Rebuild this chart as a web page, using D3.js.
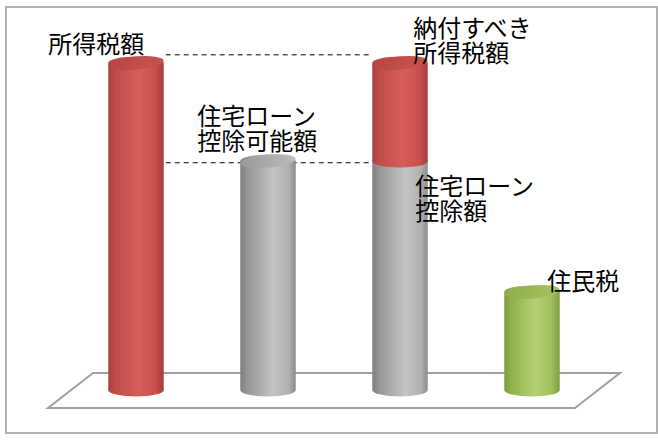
<!DOCTYPE html>
<html>
<head>
<meta charset="utf-8">
<script src="https://cdn.jsdelivr.net/npm/d3@7"></script>
<style>
  html, body { margin: 0; padding: 0; background: #fff; }
  svg { display: block; }
  text { font-family: "Noto Sans CJK JP", "Noto Sans", sans-serif; }
</style>
</head>
<body>
<svg id="chart" width="658" height="440"></svg>
<script>
// ---- data ----
const categories = ["所得税額", "住宅ローン控除可能額", "納付額", "住民税"];
// stacked segments per bar
const deductionValues = [0, 70, 70, 0];
const taxValues = [100, 0, 30, 0];
const residentValues = [0, 0, 0, 30];
// dashed guide levels
const guideValues = [102.5, 69.5];
// labels
const labelLines = [
  ["所得税額"],
  ["住宅ローン", "控除可能額"],
  ["納付すべき", "所得税額"],
  ["住宅ローン", "控除額"],
  ["住民税"]
];
const labelBar = [0, 1, 2, 2, 3];
const labelValue = [103, 81, 108, 59.6, 30.6];

// ---- layout ----
const svg = d3.select("#chart");
const labelDx = [-60, -43, 41, 43, 43];

const x = d3.scaleBand().domain(categories).range([70, 598]).paddingInner(0.58).paddingOuter(0.29);
const y = d3.scaleLinear().domain([0, 100]).range([390, 63]);

const bw = x.bandwidth();
const rx = bw / 2, ry = 6.5;

// outer frame
svg.append("rect").attr("x", 6).attr("y", 7).attr("width", 651).attr("height", 426)
  .attr("fill", "#fff").attr("stroke", "#b0b0b0").attr("stroke-width", 2);

// floor parallelogram
const fx0 = x.range()[0], fx1 = x.range()[1];
const fTop = y(0) - 17, fBot = y(0) + 18;
svg.append("path")
  .attr("d", `M${fx0 + 23},${fTop} L${fx1 + 22},${fTop} L${fx1 - 23},${fBot} L${fx0 - 22},${fBot} Z`)
  .attr("fill", "#fff").attr("stroke", "#a0a0a0").attr("stroke-width", 2);

// gradients
const defs = svg.append("defs");
function grad(id, stops) {
  const g = defs.append("linearGradient").attr("id", id).attr("x1", "0%").attr("x2", "100%").attr("y1", "0%").attr("y2", "0%");
  stops.forEach(s => g.append("stop").attr("offset", s[0]).attr("stop-color", s[1]));
}
grad("gRed", [["0%", "#a93f3d"], ["12%", "#bf4c4a"], ["55%", "#d65d5a"], ["85%", "#c9504d"], ["100%", "#a63c3a"]]);
grad("gRedTop", [["0%", "#b84644"], ["100%", "#c9524f"]]);
grad("gGray", [["0%", "#7e7e7e"], ["12%", "#959595"], ["60%", "#c4c4c4"], ["88%", "#b0b0b0"], ["100%", "#8a8a8a"]]);
grad("gGrayTop", [["0%", "#999"], ["100%", "#bcbcbc"]]);
grad("gGreen", [["0%", "#7d9c3b"], ["12%", "#8fb04a"], ["55%", "#b3d072"], ["85%", "#a0c05c"], ["100%", "#7f9e3d"]]);
grad("gGreenTop", [["0%", "#8fae4a"], ["100%", "#a5c463"]]);

function drawBody(cx, yTop, yBot, fill) {
  const l = cx - rx, r = cx + rx;
  return svg.append("path")
    .attr("d", `M${l},${yTop} L${l},${yBot} A${rx},${ry} 0 0 0 ${r},${yBot} L${r},${yTop} A${rx},${ry} 0 0 0 ${l},${yTop} Z`)
    .attr("fill", fill);
}
function drawTop(cx, yc, fill) {
  svg.append("ellipse").attr("cx", cx).attr("cy", yc).attr("rx", rx).attr("ry", ry)
    .attr("transform", `rotate(-5 ${cx} ${yc})`)
    .attr("fill", fill);
}

// guides (dashed)
guideValues.forEach(v => {
  svg.append("line")
    .attr("x1", x(categories[0]) + bw + 2).attr("x2", x(categories[2]))
    .attr("y1", y(v)).attr("y2", y(v))
    .attr("stroke", "#000").attr("stroke-width", 1).attr("stroke-dasharray", "5,4");
});

// bars
categories.forEach((c, i) => {
  const cx = x(c) + bw / 2;
  const d = deductionValues[i], t = taxValues[i], g = residentValues[i];
  let base = 0;
  let lastTopFill = null, lastTop = 0;
  if (d > 0) {
    drawBody(cx, y(base + d), y(base), "url(#gGray)");
    base += d; lastTopFill = "url(#gGrayTop)"; lastTop = base;
  }
  if (t > 0) {
    drawBody(cx, y(base + t), y(base), "url(#gRed)");
    base += t; lastTopFill = "url(#gRedTop)"; lastTop = base;
  }
  if (g > 0) {
    drawBody(cx, y(base + g), y(base), "url(#gGreen)");
    base += g; lastTopFill = "url(#gGreenTop)"; lastTop = base;
  }
  drawTop(cx, y(lastTop), lastTopFill);
});

// labels
labelLines.forEach((lines, k) => {
  const lx = x(categories[labelBar[k]]) + labelDx[k];
  const t = svg.append("text")
    .attr("x", lx).attr("y", y(labelValue[k]))
    .attr("font-size", 24).attr("fill", "#000");
  lines.forEach((s, j) => {
    t.append("tspan").attr("x", lx).attr("dy", j === 0 ? 0 : 25).text(s);
  });
});
</script>
</body>
</html>
